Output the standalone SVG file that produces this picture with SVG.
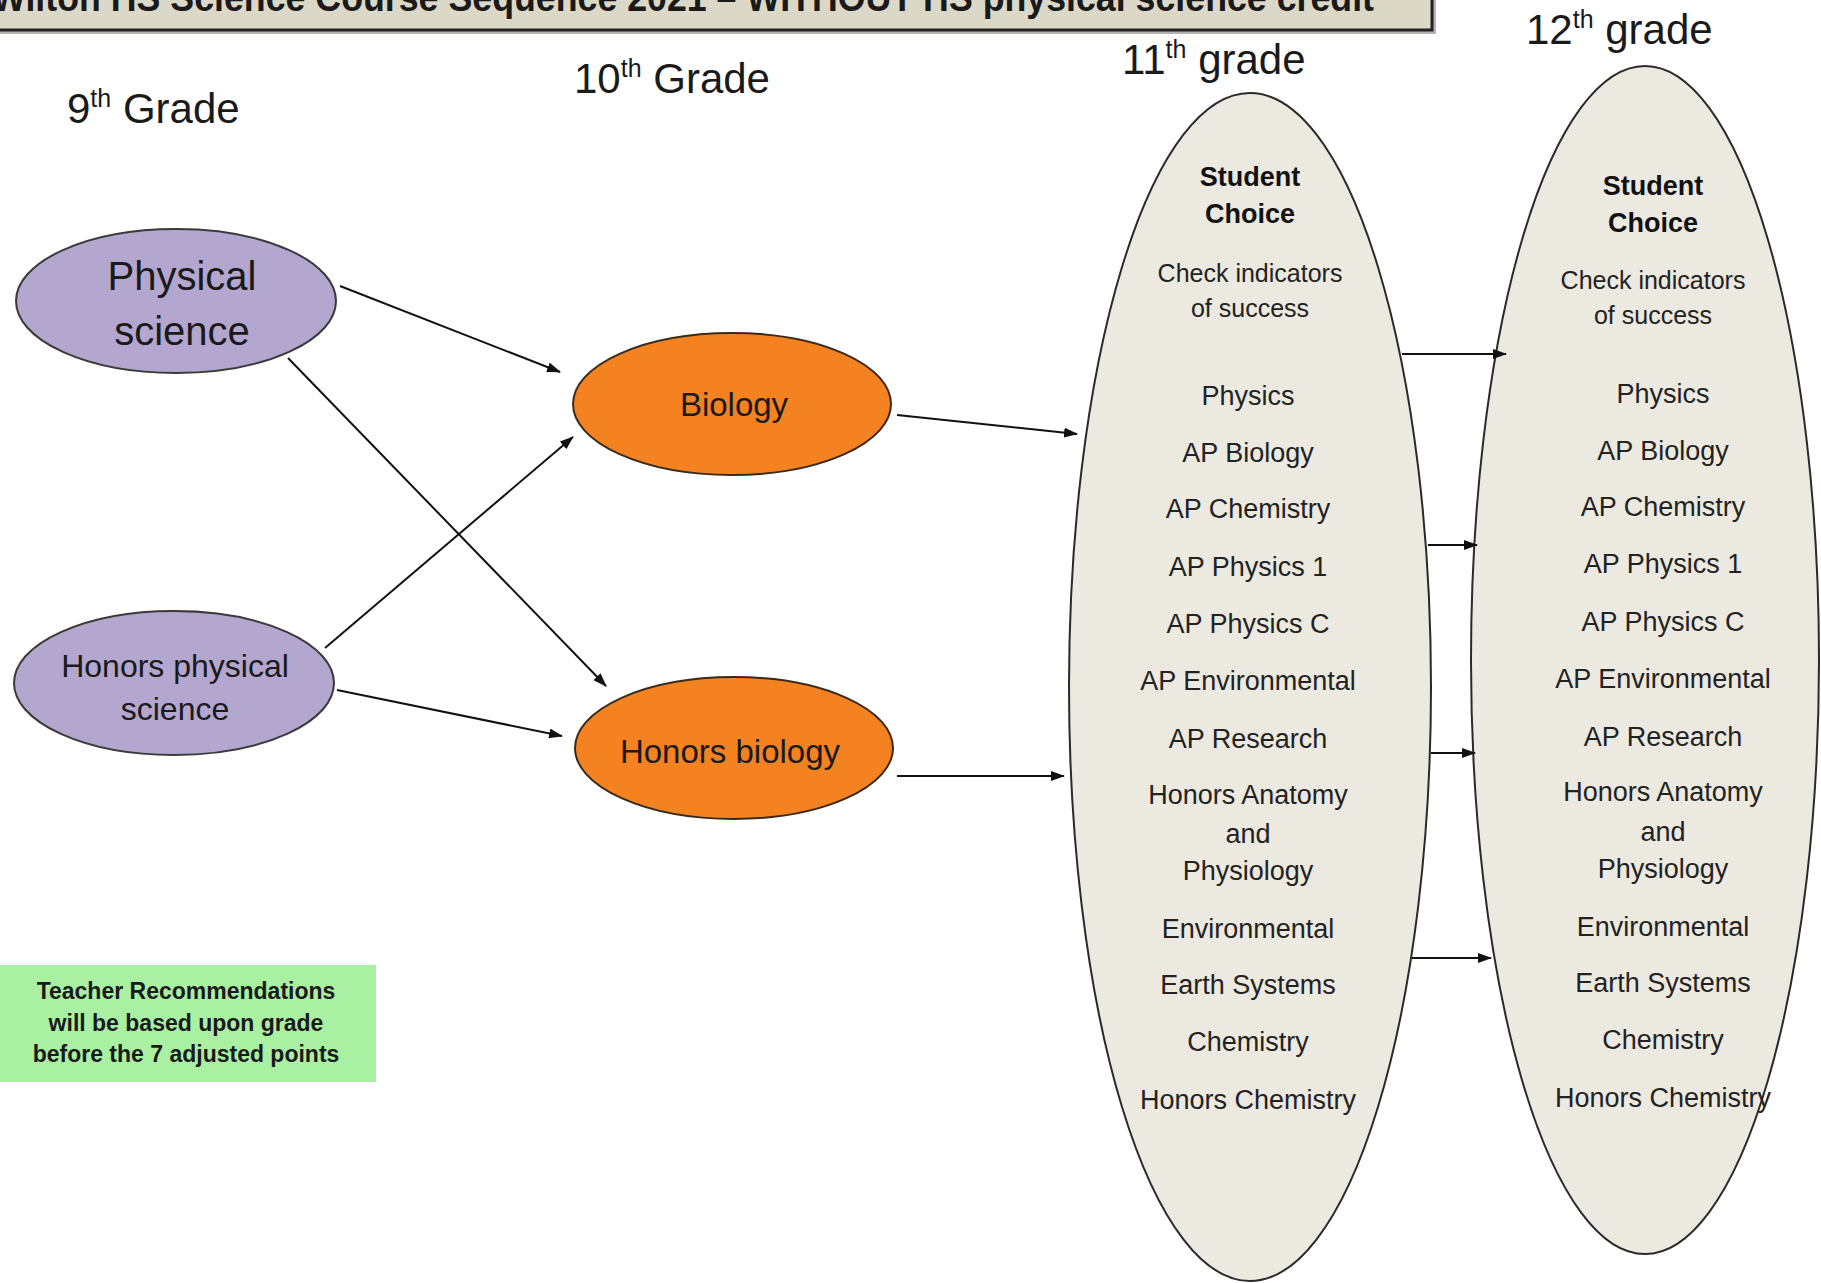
<svg xmlns="http://www.w3.org/2000/svg" width="1821" height="1283" viewBox="0 0 1821 1283">
<defs>
<style>
.t{font-family:"Liberation Sans",Arial,sans-serif;fill:#1a1a1a;}
.grade{font-size:42px;text-anchor:start;}
.item{font-size:27px;text-anchor:middle;fill:#222;}
.small{font-size:25px;text-anchor:middle;fill:#222;}
.head{font-size:27px;font-weight:bold;text-anchor:middle;fill:#111;}
.purple{fill:#b3a6cf;stroke:#3a3a3a;stroke-width:2;}
.orange{fill:#f58220;stroke:#3a2a1a;stroke-width:2;}
.beige{fill:#ece9e0;stroke:#2a2a2a;stroke-width:2;}
.conn{stroke:#111;stroke-width:2;fill:none;}
</style>
<marker id="arr" markerWidth="14" markerHeight="10" refX="13" refY="5" orient="auto" markerUnits="userSpaceOnUse">
<path d="M0,0 L14,5 L0,10 z" fill="#111"/>
</marker>
</defs>
<rect width="1821" height="1283" fill="#ffffff"/>

<g id="title">
<rect x="-10" y="-20" width="1446" height="54" fill="#6a6a60" opacity="0.5"/>
<rect x="-12" y="-22" width="1444" height="52" fill="#dcd8c7" stroke="#222" stroke-width="3"/>
<text class="t" x="-8" y="11" font-size="38" font-weight="bold" textLength="1382" lengthAdjust="spacingAndGlyphs" fill="#111">Wilton HS Science Course Sequence 2021 – WITHOUT HS physical science credit</text>
</g>

<g id="grade-labels">
<text class="t grade" x="67" y="123">9<tspan font-size="25" dy="-16">th</tspan><tspan dy="16"> Grade</tspan></text>
<text class="t grade" x="574" y="93">10<tspan font-size="25" dy="-16">th</tspan><tspan dy="16"> Grade</tspan></text>
<text class="t grade" x="1122" y="74">11<tspan font-size="25" dy="-16">th</tspan><tspan dy="16"> grade</tspan></text>
<text class="t grade" x="1526" y="44">12<tspan font-size="25" dy="-16">th</tspan><tspan dy="16"> grade</tspan></text>
</g>

<g id="node-physical-science">
<ellipse class="purple" cx="176" cy="301" rx="160" ry="72"/>
<text class="t" x="182" y="290" font-size="40" text-anchor="middle" fill="#2a2540">Physical</text>
<text class="t" x="182" y="345" font-size="40" text-anchor="middle" fill="#2a2540">science</text>
</g>

<g id="node-honors-physical-science">
<ellipse class="purple" cx="174" cy="683" rx="160" ry="72"/>
<text class="t" x="175" y="677" font-size="32" text-anchor="middle" fill="#2a2540">Honors physical</text>
<text class="t" x="175" y="720" font-size="32" text-anchor="middle" fill="#2a2540">science</text>
</g>

<g id="node-biology">
<ellipse class="orange" cx="732" cy="404" rx="159" ry="71"/>
<text class="t" x="734" y="416" font-size="33" text-anchor="middle" fill="#3a1a08">Biology</text>
</g>

<g id="node-honors-biology">
<ellipse class="orange" cx="734" cy="748" rx="159" ry="71"/>
<text class="t" x="730" y="763" font-size="33" text-anchor="middle" fill="#3a1a08">Honors biology</text>
</g>

<g id="node-11th">
<ellipse class="beige" cx="1250" cy="687" rx="181" ry="594"/>
<text class="t head" x="1250" y="186">Student</text>
<text class="t head" x="1250" y="223">Choice</text>
<text class="t small" x="1250" y="282">Check indicators</text>
<text class="t small" x="1250" y="317">of success</text>
<text class="t item" x="1248" y="405">Physics</text>
<text class="t item" x="1248" y="462">AP Biology</text>
<text class="t item" x="1248" y="518">AP Chemistry</text>
<text class="t item" x="1248" y="576">AP Physics 1</text>
<text class="t item" x="1248" y="633">AP Physics C</text>
<text class="t item" x="1248" y="690">AP Environmental</text>
<text class="t item" x="1248" y="748">AP Research</text>
<text class="t item" x="1248" y="804">Honors Anatomy</text>
<text class="t item" x="1248" y="843">and</text>
<text class="t item" x="1248" y="880">Physiology</text>
<text class="t item" x="1248" y="938">Environmental</text>
<text class="t item" x="1248" y="994">Earth Systems</text>
<text class="t item" x="1248" y="1051">Chemistry</text>
<text class="t item" x="1248" y="1109">Honors Chemistry</text>
</g>

<g id="node-12th">
<ellipse class="beige" cx="1645" cy="660" rx="174" ry="594"/>
<text class="t head" x="1653" y="195">Student</text>
<text class="t head" x="1653" y="232">Choice</text>
<text class="t small" x="1653" y="289">Check indicators</text>
<text class="t small" x="1653" y="324">of success</text>
<text class="t item" x="1663" y="403">Physics</text>
<text class="t item" x="1663" y="460">AP Biology</text>
<text class="t item" x="1663" y="516">AP Chemistry</text>
<text class="t item" x="1663" y="573">AP Physics 1</text>
<text class="t item" x="1663" y="631">AP Physics C</text>
<text class="t item" x="1663" y="688">AP Environmental</text>
<text class="t item" x="1663" y="746">AP Research</text>
<text class="t item" x="1663" y="801">Honors Anatomy</text>
<text class="t item" x="1663" y="841">and</text>
<text class="t item" x="1663" y="878">Physiology</text>
<text class="t item" x="1663" y="936">Environmental</text>
<text class="t item" x="1663" y="992">Earth Systems</text>
<text class="t item" x="1663" y="1049">Chemistry</text>
<text class="t item" x="1663" y="1107">Honors Chemistry</text>
</g>

<g id="note">
<rect x="0" y="965" width="376" height="117" fill="#a9f0a3"/>
<text class="t" x="186" y="999" font-size="23" font-weight="bold" text-anchor="middle" fill="#1c3320">Teacher Recommendations</text>
<text class="t" x="186" y="1031" font-size="23" font-weight="bold" text-anchor="middle" fill="#1c3320">will be based upon grade</text>
<text class="t" x="186" y="1062" font-size="23" font-weight="bold" text-anchor="middle" fill="#1c3320">before the 7 adjusted points</text>
</g>

<g id="connectors">
<line class="conn" x1="340" y1="286" x2="560" y2="372" marker-end="url(#arr)"/>
<line class="conn" x1="288" y1="358" x2="606" y2="686" marker-end="url(#arr)"/>
<line class="conn" x1="325" y1="648" x2="573" y2="437" marker-end="url(#arr)"/>
<line class="conn" x1="337" y1="690" x2="562" y2="736" marker-end="url(#arr)"/>
<line class="conn" x1="897" y1="415" x2="1077" y2="434" marker-end="url(#arr)"/>
<line class="conn" x1="897" y1="776" x2="1064" y2="776" marker-end="url(#arr)"/>
<line class="conn" x1="1402" y1="354" x2="1506" y2="354" marker-end="url(#arr)"/>
<line class="conn" x1="1428" y1="545" x2="1477" y2="545" marker-end="url(#arr)"/>
<line class="conn" x1="1431" y1="753" x2="1475" y2="753" marker-end="url(#arr)"/>
<line class="conn" x1="1412" y1="958" x2="1491" y2="958" marker-end="url(#arr)"/>
</g>
</svg>
